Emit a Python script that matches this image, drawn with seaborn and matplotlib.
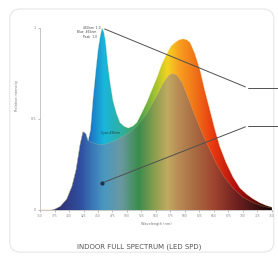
import numpy as np
import pandas as pd
import matplotlib
matplotlib.use("Agg")
import matplotlib.pyplot as plt
import seaborn as sns
from matplotlib.colors import LinearSegmentedColormap
from matplotlib.patches import FancyBboxPatch

# spectrum (wavelength in nm, relative intensity)
wl_back = [350, 370, 376, 385, 396, 405, 412, 419, 424, 429, 433, 437, 441, 446, 450, 454,
           457, 460, 463, 467, 471, 476, 482, 488, 495, 502, 510, 517, 525, 534, 543, 552,
           560, 569, 576, 583, 590, 597, 603, 609, 617, 626, 634, 643, 651, 660, 671, 683,
           695, 707, 718, 729, 740, 750]
back = [0.0, 0.0, 0.005, 0.02, 0.06, 0.13, 0.22, 0.36, 0.43, 0.42, 0.38, 0.44, 0.60, 0.76, 0.88, 0.96,
        1.00, 0.98, 0.93, 0.80, 0.70, 0.60, 0.53, 0.48, 0.46, 0.45, 0.46, 0.48, 0.53, 0.59, 0.66, 0.73,
        0.80, 0.86, 0.90, 0.92, 0.935, 0.94, 0.935, 0.92, 0.86, 0.77, 0.66, 0.55, 0.45, 0.35, 0.26, 0.18,
        0.12, 0.085, 0.06, 0.04, 0.025, 0.015]

wl_front = [350, 370, 376, 385, 396, 405, 412, 419, 424, 429, 433, 440, 450, 460, 470, 480,
            490, 502, 517, 534, 552, 563, 572, 579, 586, 595, 605, 617, 630, 643, 655, 668,
            683, 700, 718, 735, 750]
front = [0.0, 0.0, 0.005, 0.02, 0.06, 0.13, 0.22, 0.36, 0.43, 0.42, 0.38, 0.37, 0.36, 0.36, 0.37, 0.38,
         0.40, 0.42, 0.46, 0.53, 0.63, 0.70, 0.74, 0.75, 0.74, 0.70, 0.62, 0.52, 0.42, 0.33, 0.25, 0.18,
         0.12, 0.07, 0.04, 0.02, 0.01]

# colour stops along the wavelength axis
stops_nm = [350, 390, 420, 440, 460, 490, 520, 550, 570, 590, 620, 650, 690, 730, 750]
back_colors = ["#1a1040", "#2a2a80", "#2040a0", "#1e7fc8", "#19b6dc", "#30b0a0", "#40a050",
               "#a8c430", "#f4d420", "#f8a020", "#f07018", "#e83810", "#b01010", "#500808", "#200000"]
front_colors = ["#202050", "#303880", "#3050a0", "#3a78b8", "#4a98c0", "#6a98a0", "#3a8c4c",
                "#90a050", "#c0aa60", "#b88a55", "#a86840", "#a04530", "#702020", "#351010", "#150505"]

xticks = list(range(350, 751, 25))
yticks = [0, 0.5, 1]

sns.set_theme(style="white")
plt.rcParams["font.family"] = ["DejaVu Sans"]

fig = plt.figure(figsize=(2.78, 2.56), dpi=100)
fig.patches.append(FancyBboxPatch((0.035, 0.015), 0.95, 0.95, boxstyle="round,pad=0,rounding_size=0.04",
                                  transform=fig.transFigure, fc="white", ec="#e6e6e6", lw=0.8, zorder=-5))
ax = fig.add_axes([0.144, 0.180, 0.834, 0.711])
ax.patch.set_alpha(0)


def gradient_fill(ax, x, y, stops, colors, z):
    pos = [(s - stops[0]) / (stops[-1] - stops[0]) for s in stops]
    cmap = LinearSegmentedColormap.from_list("spec", list(zip(pos, colors)))
    poly = ax.fill_between(x, 0, y, color="none", lw=0, zorder=z)
    grad = np.linspace(0, 1, 400).reshape(1, -1)
    img = ax.imshow(grad, cmap=cmap, aspect="auto", extent=[stops[0], stops[-1], 0, 1.05],
                    origin="lower", zorder=z)
    img.set_clip_path(poly.get_paths()[0], transform=ax.transData)


gradient_fill(ax, wl_back, back, stops_nm, back_colors, 1)
gradient_fill(ax, wl_front, front, stops_nm, front_colors, 2)

df_b = pd.DataFrame({"nm": wl_back, "v": back})
df_f = pd.DataFrame({"nm": wl_front, "v": front})
sns.lineplot(data=df_b, x="nm", y="v", ax=ax, color="#ffe9b0", lw=0.4, alpha=0.6, zorder=3)
sns.lineplot(data=df_f, x="nm", y="v", ax=ax, color="#d8c890", lw=0.3, alpha=0.5, zorder=3)

ax.set_xlim(350, 750)
ax.set_ylim(0, 1)
ax.set_xticks(xticks)
ax.set_xticklabels([str(t) for t in xticks], fontsize=2.2, color="#666666")
ax.set_yticks(yticks)
ax.set_yticklabels(["0", "0.5", "1"], fontsize=2.5, color="#666666")
ax.tick_params(axis="both", length=1.2, width=0.4, pad=1.5, colors="#888888", direction="out")
ax.tick_params(axis="x", bottom=True)
ax.tick_params(axis="y", left=True)
for side in ["top", "right"]:
    ax.spines[side].set_visible(False)
for side in ["left", "bottom"]:
    ax.spines[side].set_color("#b0b0b0")
    ax.spines[side].set_linewidth(0.5)
ax.set_xlabel("Wavelength (nm)", fontsize=2.5, color="#777777", labelpad=3)
ax.set_ylabel("Relative intensity", fontsize=2.5, color="#777777", labelpad=2)
ax.yaxis.set_label_coords(-0.09, 0.63)

# annotations
i_peak = int(np.argmax(back))
ax.annotate("", xy=(wl_back[i_peak], back[i_peak]), xytext=(0.897, 0.670),
            xycoords="data", textcoords="axes fraction",
            arrowprops=dict(arrowstyle="-", color="#505050", lw=0.7), zorder=5)
ax.plot([0.897, 1.03], [0.670, 0.670], transform=ax.transAxes, color="#505050", lw=0.7,
        clip_on=False, zorder=5)
ax.annotate("", xy=(457, 0.148), xytext=(0.897, 0.462),
            xycoords="data", textcoords="axes fraction",
            arrowprops=dict(arrowstyle="-", color="#505050", lw=0.7), zorder=5)
ax.plot([0.897, 1.03], [0.462, 0.462], transform=ax.transAxes, color="#505050", lw=0.7,
        clip_on=False, zorder=5)
ax.scatter([457], [0.148], s=4, color="#203040", zorder=6)

ax.text(455, 1.0, "460nm  1.0", fontsize=2.2, color="#444444", ha="right", va="center", zorder=6)
ax.text(448, 0.975, "Blue  465nm", fontsize=2.2, color="#444444", ha="right", va="center", zorder=6)
ax.text(448, 0.95, "Peak  1.0", fontsize=2.2, color="#444444", ha="right", va="center", zorder=6)
ax.text(455, 0.42, "Cyan 490nm", fontsize=2.2, color="#204040", ha="left", va="center", zorder=6)

fig.text(0.50, 0.035, "INDOOR FULL SPECTRUM (LED SPD)", fontsize=5, color="#555555",
         ha="center", va="center")

fig.savefig("out.png", dpi=100)
